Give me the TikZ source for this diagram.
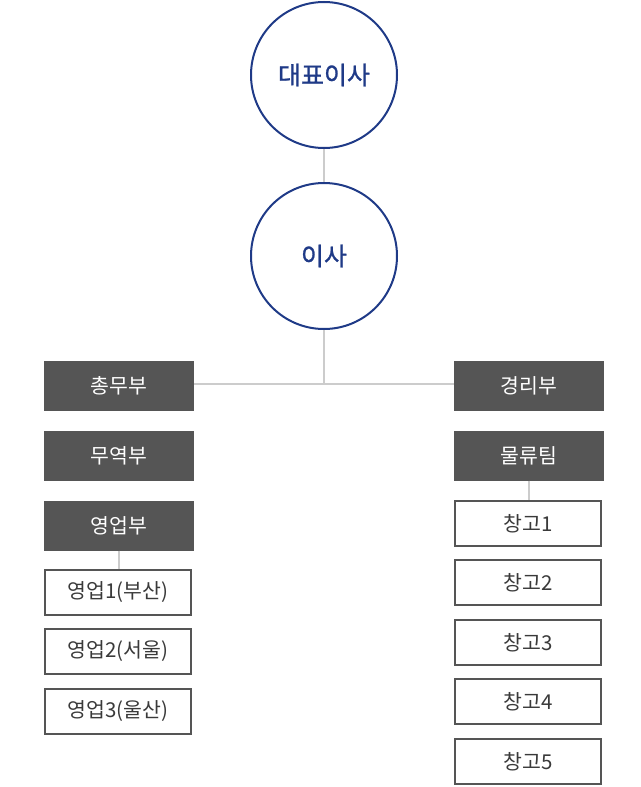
\documentclass[tikz,border=0pt]{standalone}
\usepackage{fontspec}
\newfontfamily\kr{Noto Sans CJK KR}
\newfontfamily\krm{Noto Sans CJK KR}[FakeBold=1.0]
\definecolor{navy}{HTML}{1F3A87}
\definecolor{dark}{HTML}{555555}
\definecolor{conn}{HTML}{CCCCCC}
\definecolor{txt}{HTML}{3A3A3A}
\begin{document}
\begin{tikzpicture}[x=1pt,y=-1pt,
  circ/.style={circle,draw=navy,line width=2pt,minimum size=146pt,inner sep=0pt,text=navy,font=\krm\fontsize{25}{30}\selectfont},
  darkbox/.style={rectangle,fill=dark,minimum width=150pt,minimum height=50pt,inner sep=0pt,text=white,font=\kr\fontsize{20.5}{24}\selectfont},
  whitebox/.style={rectangle,draw=dark,line width=2pt,fill=white,minimum width=146pt,minimum height=45pt,inner sep=0pt,text=txt,font=\kr\fontsize{20.5}{24}\selectfont},
  link/.style={draw=conn,line width=2pt}]
\useasboundingbox (0,0) rectangle (640,787);
\node[circ] (ceo) at (324,75) {대표이사};
\node[circ] (dir) at (324,256) {이사};
\node[darkbox] (gen) at (119,385.5) {총무부};
\node[darkbox] (trade) at (119,455.5) {무역부};
\node[darkbox] (sales) at (119,525.5) {영업부};
\node[darkbox] (acct) at (529,385.5) {경리부};
\node[darkbox] (logi) at (529,455.5) {물류팀};
\node[whitebox] (s1) at (118,592.5) {영업1(부산)};
\node[whitebox] (s2) at (118,651.5) {영업2(서울)};
\node[whitebox] (s3) at (118,711.5) {영업3(울산)};
\node[whitebox] (w1) at (528,523.5) {창고1};
\node[whitebox] (w2) at (528,582.5) {창고2};
\node[whitebox] (w3) at (528,642.5) {창고3};
\node[whitebox] (w4) at (528,701.5) {창고4};
\node[whitebox] (w5) at (528,761.5) {창고5};
\coordinate (j) at (324,384);
\path[link] (ceo.south) -- (dir.north);
\path[link] (dir.south) -- (j);
\path[link] (gen.east |- j) -- (acct.west |- j);
\path[link] (sales.south) -- (sales.south |- s1.north);
\path[link] (logi.south) -- (logi.south |- w1.north);
\end{tikzpicture}
\end{document}
